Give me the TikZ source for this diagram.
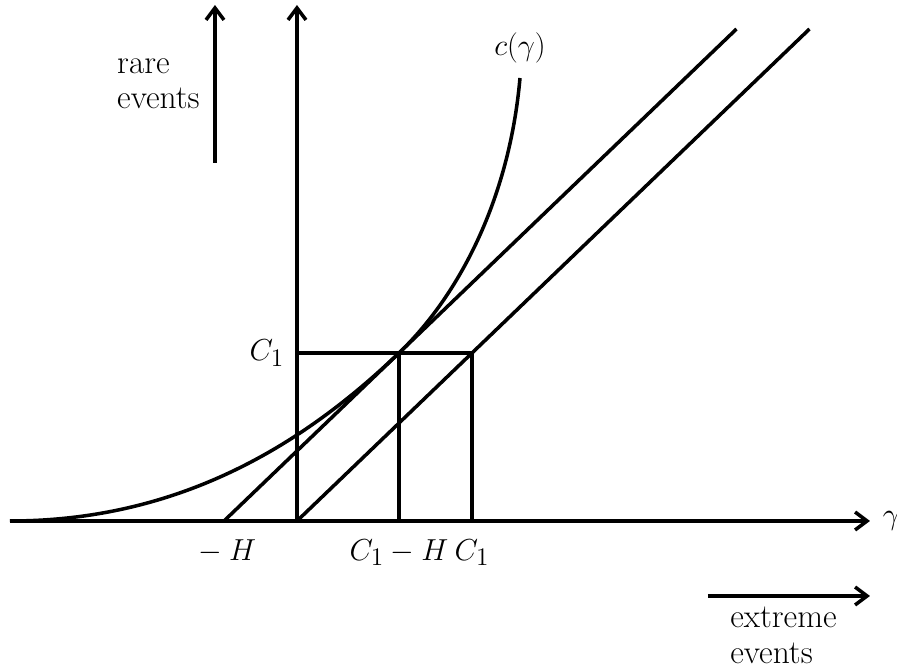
\documentclass[tikz,border=0pt]{standalone}
\usepackage{tikz}
\usetikzlibrary{arrows.meta,positioning,calc}
\tikzset{
  axis/.style={-{Straight Barb[length=2.4mm,width=3.6mm]},line width=2pt},
  graph/.style={line width=2pt},
  lbl/.style={font=\fontsize{19}{20}\selectfont,inner sep=0pt},
}

\begin{document}
\begin{tikzpicture}
  \useasboundingbox (-5.94,-2.94) rectangle (12.0,10.42);
  % axes and points
  \coordinate (O) at (0,0);
  \coordinate (xstart) at (-5.74,0);
  \coordinate (xend) at (11.46,0);
  \coordinate (yend) at (0,10.32);
  \coordinate (mH) at (-1.46,0);
  \coordinate (C1H) at (2.04,0);
  \coordinate (C1) at (3.5,0);
  \coordinate (yC1) at (0,3.36);
  \coordinate (T) at (2.04,3.36);
  \coordinate (Q) at (3.5,3.36);
  \coordinate (L1) at (8.79,9.84);
  \coordinate (L2) at (10.25,9.84);
  \coordinate (ctop) at (4.46,8.86);
  \coordinate (r0) at (-1.64,7.16);
  \coordinate (r1) at (-1.64,10.32);
  \coordinate (e0) at (8.22,-1.5);
  \coordinate (e1) at (11.46,-1.5);

  \draw[axis] (xstart) -- (xend);
  \draw[axis] (O) -- (yend);
  \draw[graph] (mH) -- (L1);
  \draw[graph] (O) -- (L2);
  \draw[graph] (yC1) -- (Q) -- (C1);
  \draw[graph] (T) -- (C1H);
  % the curve c(gamma)
  \draw[graph] (xstart) .. controls (-2.24,0) and (0.235,1.63) .. (T)
    .. controls (3.195,4.467) and (4.24,6.37) .. (ctop);

  \draw[axis] (r0) -- (r1);
  \draw[axis] (e0) -- (e1);

  \node[lbl,right=0.25cm of xend] (gam) {$\gamma$};
  \node[lbl,left=0.25cm of yC1] (lC1) {$C_1$};
  \node[lbl,below=0.36cm of mH] (lmH) {${}-H$};
  \node[lbl,below=0.36cm of C1H] (lC1H) {$C_1-H$};
  \node[lbl,below=0.36cm of C1] (lC1x) {$C_1$};
  \node[lbl,above=0.3cm of ctop] (lc) {$c(\gamma)$};
  \node[lbl,align=left,left=0.3cm] (rare) at ($(r0)!0.5!(r1)$) {rare\\events};
  \node[lbl,align=left,anchor=north west] (extreme) at (8.66,-1.72) {extreme\\events};
\end{tikzpicture}
\end{document}
